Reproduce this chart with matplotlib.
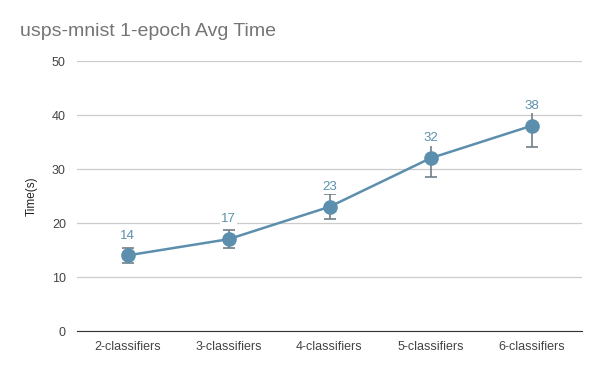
import matplotlib.pyplot as plt

categories = ['2-classifiers', '3-classifiers', '4-classifiers', '5-classifiers', '6-classifiers']
avg_time = [14, 17, 23, 32, 38]
err = [1.4, 1.7, 2.3, 3.5, 3.9]
yticks = [0, 10, 20, 30, 40, 50]

plt.rcParams['font.family'] = ['Liberation Sans', 'DejaVu Sans']

fig = plt.figure(figsize=(6, 3.71), dpi=100)
ax = fig.add_axes([77 / 600, 1 - 331 / 371, 505 / 600, 270 / 371])

x = list(range(len(categories)))
ax.errorbar(x, avg_time, yerr=err, fmt='none', ecolor='#6f7f88', elinewidth=1.2,
            capsize=4.5, capthick=1.2, zorder=2)
ax.plot(x, avg_time, color='#5b8fad', lw=1.8, marker='o', markersize=9.5, zorder=3)

for xi, v in zip(x, avg_time):
    ax.annotate(str(v), (xi, v), xytext=(0, 10), textcoords='offset points',
                ha='center', va='bottom', fontsize=9.5, color='#5b8fad',
                bbox=dict(boxstyle='square,pad=0.1', fc='white', ec='none'), zorder=4)

ax.set_xlim(-0.5, len(categories) - 0.5)
ax.set_ylim(0, 50)
ax.set_yticks(yticks)
ax.set_xticks(x)
ax.set_xticklabels(categories)
ax.tick_params(axis='both', length=0, labelsize=9, labelcolor='#444444')
ax.tick_params(axis='y', pad=8)
ax.tick_params(axis='x', pad=7)
ax.grid(axis='y', color='#cccccc', lw=0.9)
ax.set_axisbelow(True)
for s in ['top', 'right', 'left']:
    ax.spines[s].set_visible(False)
ax.spines['bottom'].set_color('#333333')
ax.set_ylabel('Time(s)', fontsize=8.5, color='#222222', labelpad=10)

fig.text(20 / 600, 1 - 31 / 371, 'usps-mnist 1-epoch Avg Time', fontsize=14,
         color='#757575', va='center', ha='left')

fig.savefig('out.png', dpi=100)
